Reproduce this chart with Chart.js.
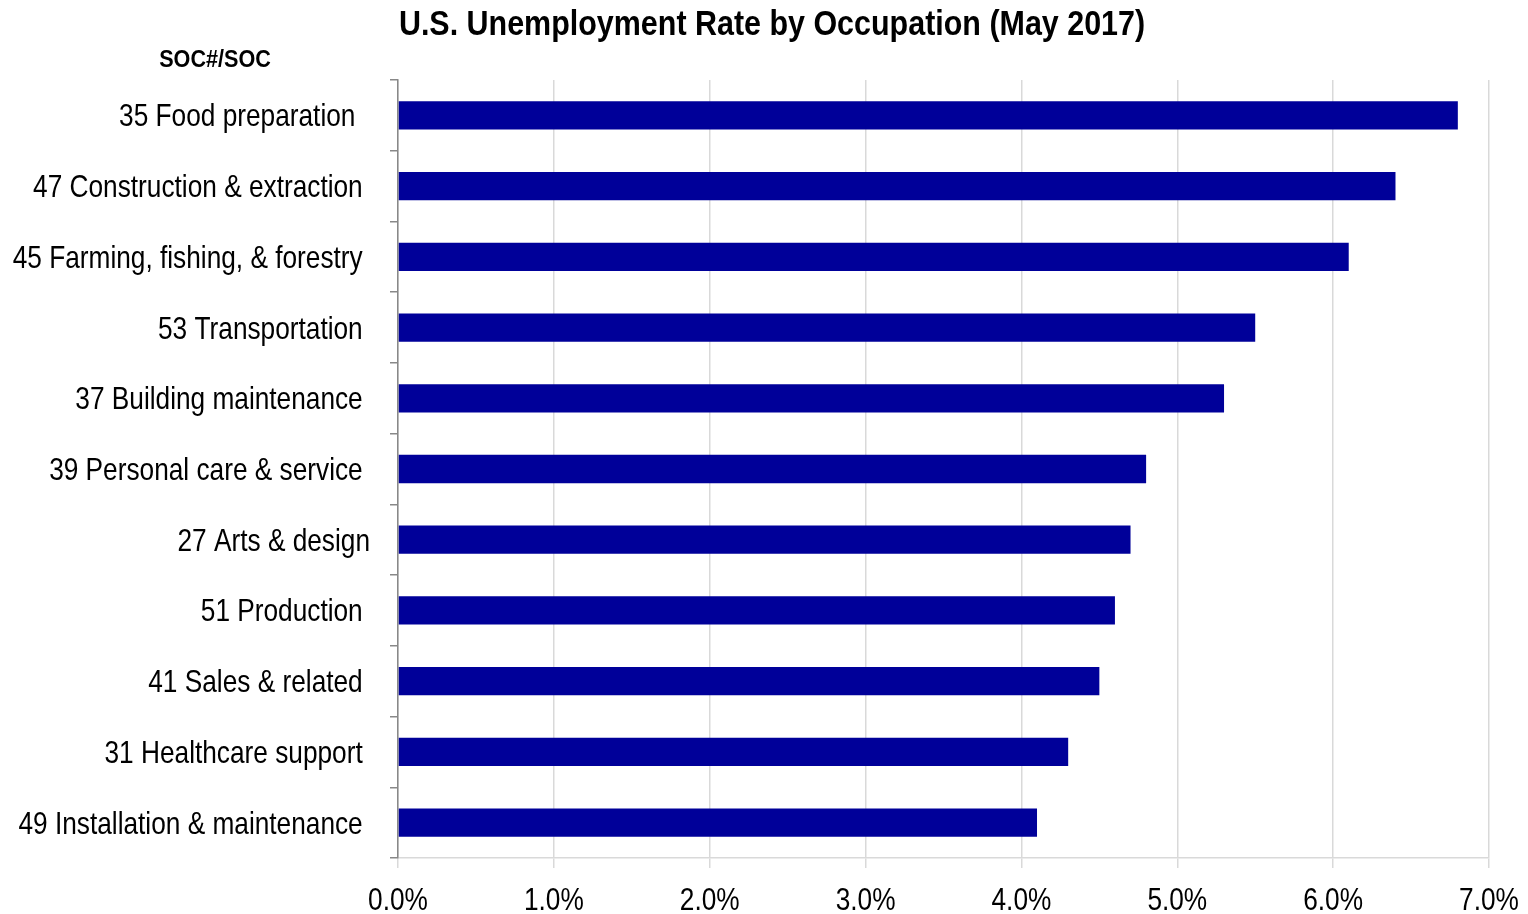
<!DOCTYPE html>
<html>
<head>
<meta charset="utf-8">
<script src="https://cdn.jsdelivr.net/npm/chart.js@4"></script>
<style>
    html, body { margin: 0; padding: 0; background: #fff; }
    #wrap { width: 1528px; height: 914px; }
</style>
</head>
<body>
<div id="wrap"><canvas id="occChart"></canvas></div>
<script>
// Data (trailing spaces kept as in the original labels)
const occupations = [
    '35 Food preparation  ',
    '47 Construction & extraction ',
    '45 Farming, fishing, & forestry ',
    '53 Transportation ',
    '37 Building maintenance ',
    '39 Personal care & service ',
    '27 Arts & design',
    '51 Production ',
    '41 Sales & related ',
    '31 Healthcare support ',
    '49 Installation & maintenance '
];
const rates = [6.8, 6.4, 6.1, 5.5, 5.3, 4.8, 4.7, 4.6, 4.5, 4.3, 4.1];
const xTicks = [0, 1, 2, 3, 4, 5, 6, 7];

const chartTitle = 'U.S. Unemployment Rate by Occupation (May 2017)';
const axisHeader = 'SOC#/SOC';

// No narrow font installed, so Liberation Sans is squeezed horizontally
const FONT = "'Liberation Sans', Arial, sans-serif";

function narrowText(ctx, text, x, y, font, squeeze, align) {
    ctx.save();
    ctx.font = font;
    ctx.fillStyle = '#000';
    ctx.textAlign = align;
    ctx.textBaseline = 'alphabetic';
    ctx.translate(x, y);
    ctx.scale(squeeze, 1);
    ctx.fillText(text, 0, 0);
    ctx.restore();
}

// Draws title, header and tick labels in the condensed look
const condensedLabels = {
    id: 'condensedLabels',
    afterDraw(chart) {
        const ctx = chart.ctx;
        const area = chart.chartArea;
        const xs = chart.scales.x;
        const ys = chart.scales.y;

        narrowText(ctx, chartTitle, 772, 35, 'bold 35px ' + FONT, 0.87, 'center');
        narrowText(ctx, axisHeader, 215, 67, 'bold 24px ' + FONT, 0.9, 'center');

        occupations.forEach((label, i) => {
            const y = ys.getPixelForTick(i);
            narrowText(ctx, label, area.left - 28, y + 11, '32px ' + FONT, 0.82, 'right');
        });

        xTicks.forEach((v, i) => {
            const x = xs.getPixelForValue(v);
            narrowText(ctx, v.toFixed(1) + '%', x, area.bottom + 52, '32px ' + FONT, 0.82, 'center');
        });
    }
};

const ctx = document.getElementById('occChart').getContext('2d');

new Chart(ctx, {
    type: 'bar',
    data: {
        labels: occupations,
        datasets: [{
            data: rates,
            backgroundColor: '#000099',
            borderWidth: 0,
            categoryPercentage: 1,
            barPercentage: 0.4
        }]
    },
    options: {
        indexAxis: 'y',
        responsive: true,
        maintainAspectRatio: false,
        animation: false,
        layout: {
            padding: { left: 0, right: 39, top: 80, bottom: 0 }
        },
        scales: {
            x: {
                min: 0,
                max: 7,
                afterBuildTicks(scale) {
                    scale.ticks = xTicks.map(v => ({ value: v }));
                },
                afterFit(scale) {
                    scale.height = 56;
                },
                grid: {
                    color: '#d9d9d9',
                    lineWidth: 1.5,
                    tickLength: 10,
                    tickColor: '#d9d9d9'
                },
                border: { color: '#d9d9d9', width: 1.5 },
                ticks: { display: false }
            },
            y: {
                afterFit(scale) {
                    scale.width = 398;
                },
                grid: {
                    drawOnChartArea: false,
                    tickLength: 8,
                    tickColor: '#888',
                    lineWidth: 1.5
                },
                border: { color: '#888', width: 1.5 },
                ticks: { display: false, autoSkip: false }
            }
        },
        plugins: {
            legend: { display: false },
            tooltip: { enabled: false },
            title: { display: false }
        }
    },
    plugins: [condensedLabels]
});
</script>
</body>
</html>
